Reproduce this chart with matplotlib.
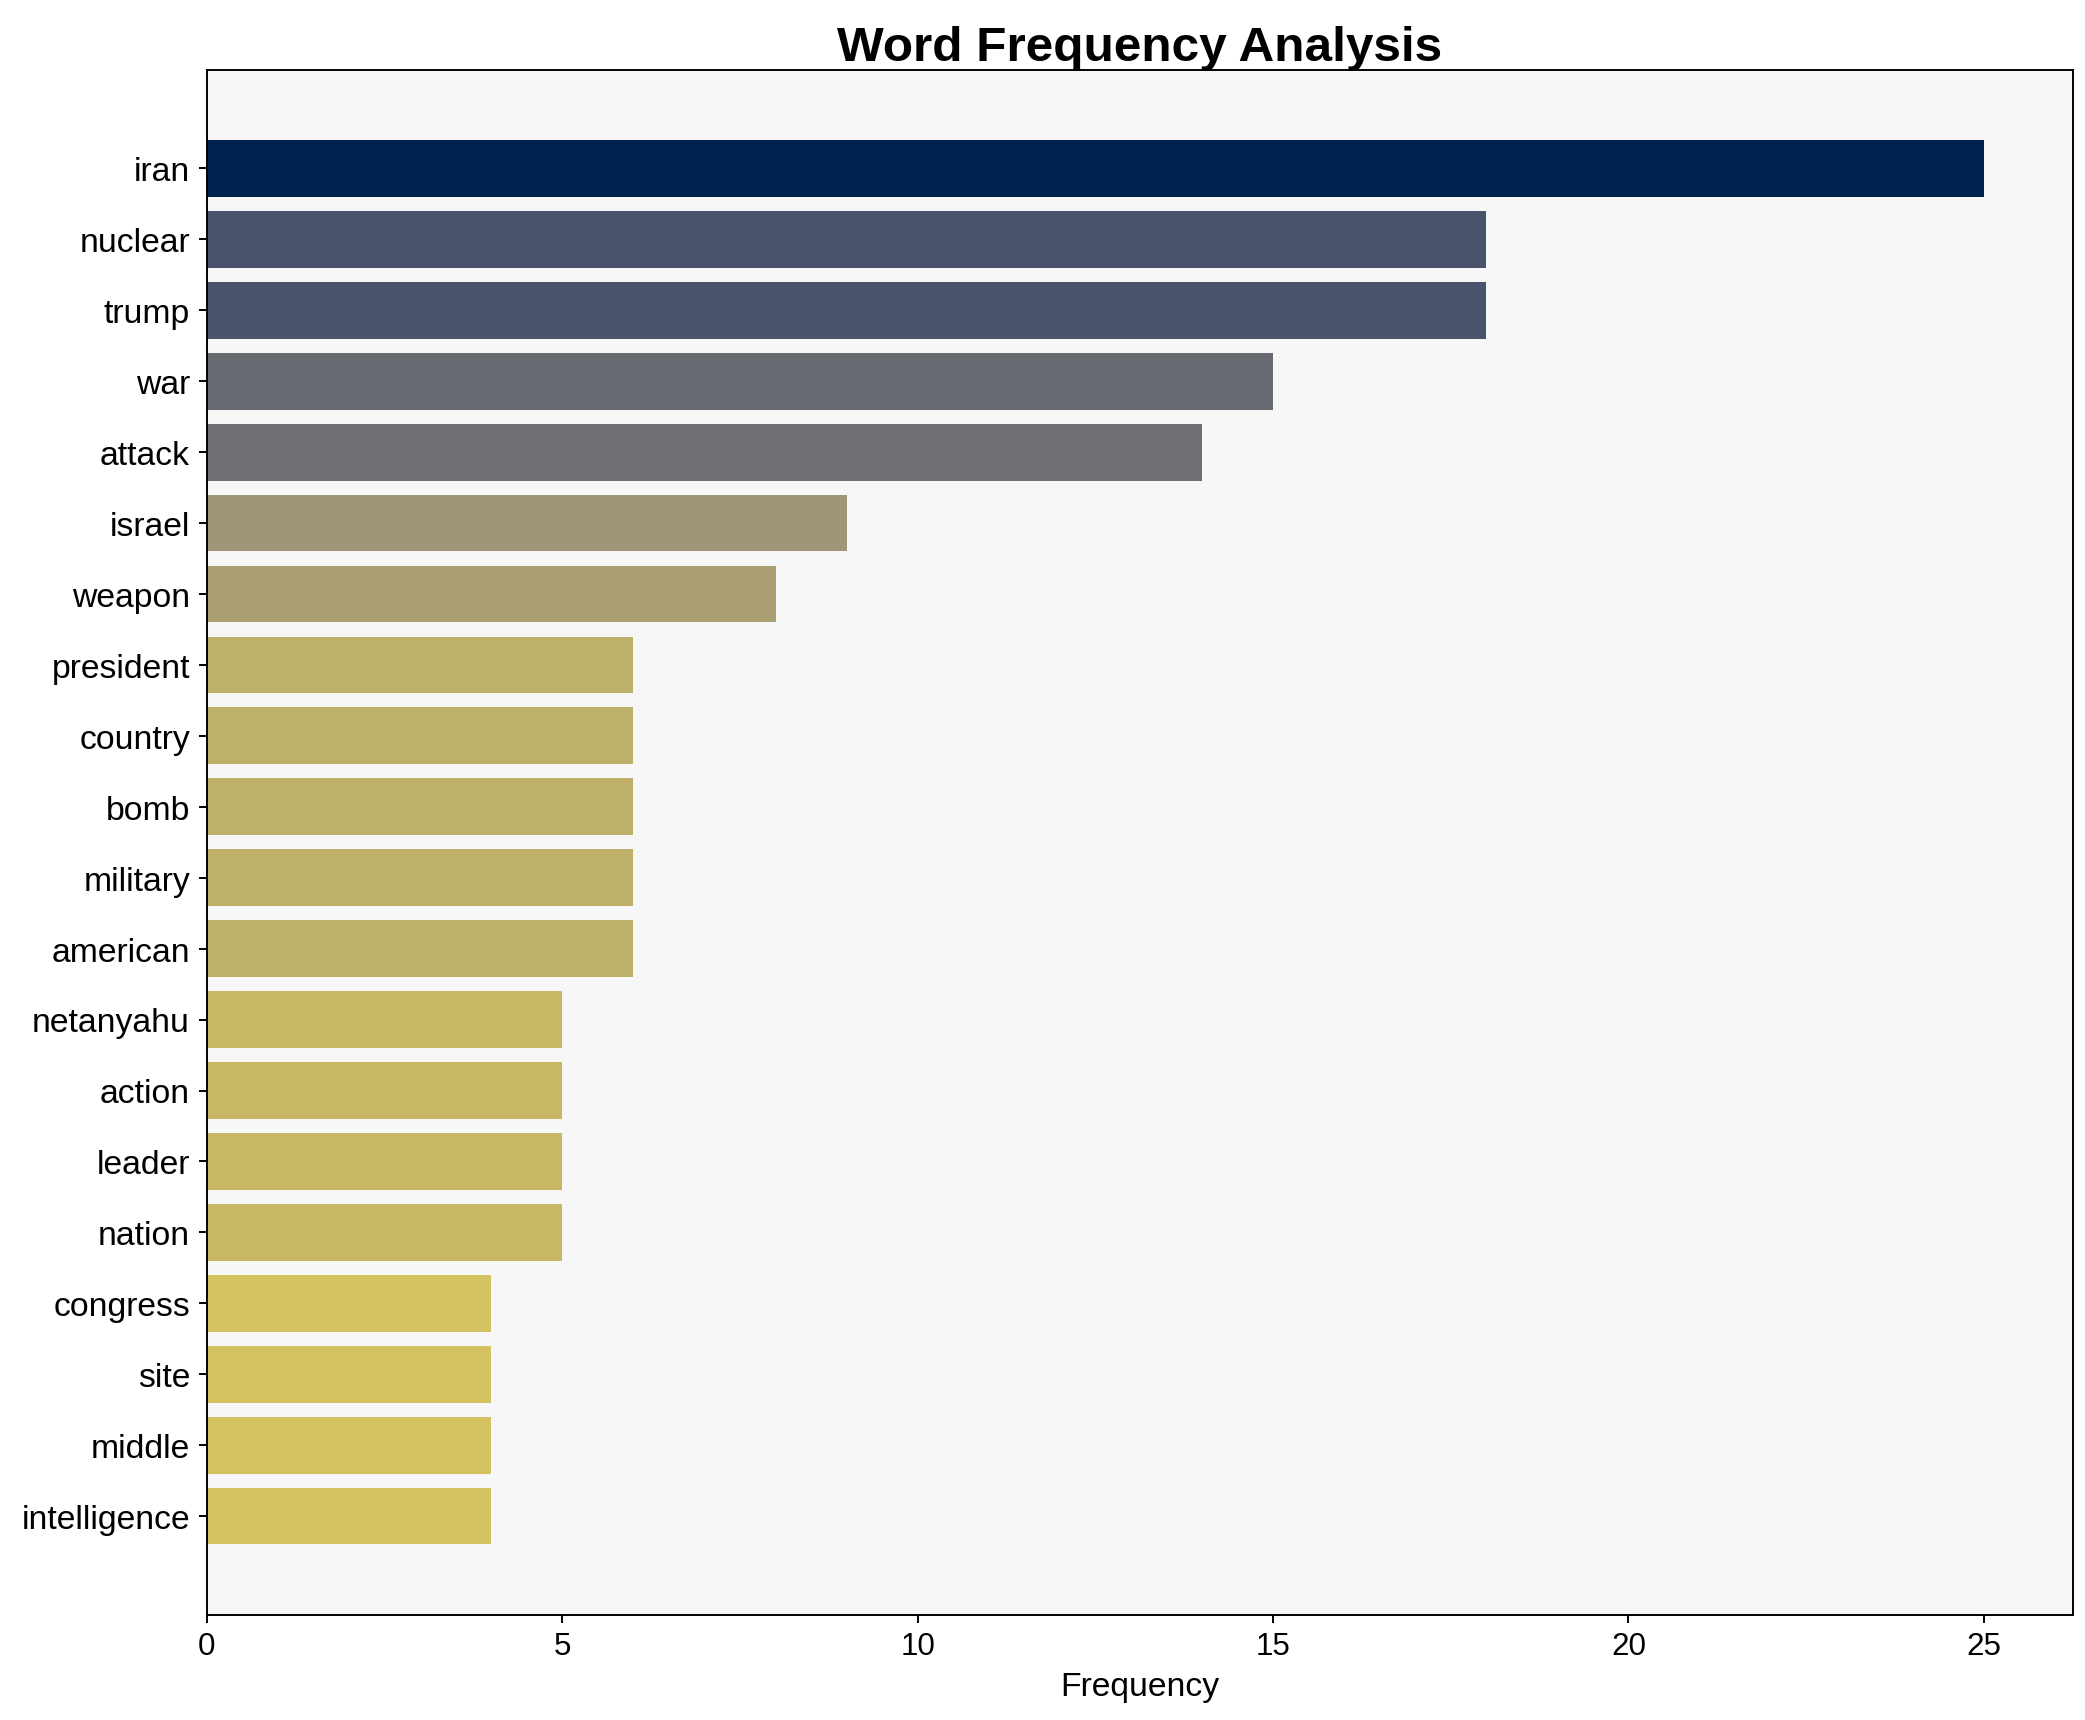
import matplotlib
matplotlib.use('Agg')
import matplotlib.pyplot as plt
import numpy as np

plt.rcParams['font.family'] = ['Liberation Sans', 'DejaVu Sans']

#%% Data
words = ['iran', 'nuclear', 'trump', 'war', 'attack', 'israel', 'weapon', 'president',
         'country', 'bomb', 'military', 'american', 'netanyahu', 'action', 'leader',
         'nation', 'congress', 'site', 'middle', 'intelligence']
counts = [25, 18, 18, 15, 14, 9, 8, 6, 6, 6, 6, 6, 5, 5, 5, 5, 4, 4, 4, 4]

#%% Plot
fig, ax = plt.subplots(figsize=(12, 9.9), dpi=173.83)
vals = np.array(counts, dtype=float)
colors = plt.cm.cividis(1 - vals / vals.max())
ax.barh(words, counts, color=colors, height=0.8)
ax.invert_yaxis()
ax.set_facecolor('#f7f7f7')
ax.set_xlabel('Frequency', fontsize=14)
ax.set_title('Word Frequency Analysis', fontsize=20.5, fontweight='bold', pad=4)
ax.tick_params(axis='y', labelsize=14)
ax.tick_params(axis='x', labelsize=13)
fig.subplots_adjust(left=0.0992, right=0.9936, top=0.9589, bottom=0.0612)
fig.savefig('out.png')
